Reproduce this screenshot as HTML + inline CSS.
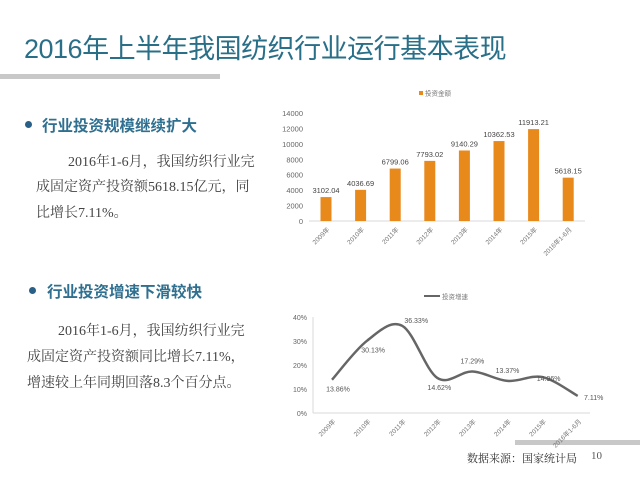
<!DOCTYPE html>
<html><head><meta charset="utf-8"><style>
body{margin:0;width:640px;height:480px;background:#fff;overflow:hidden;position:relative;font-family:"Liberation Sans","Noto Sans CJK SC",sans-serif}
.abs{position:absolute;white-space:nowrap}
.h{color:#2f6f8f;font-size:15.5px;font-weight:bold;font-family:"Liberation Sans","Noto Sans CJK SC",sans-serif}
.dot{width:7px;height:7px;border-radius:50%;background:#2a5f86;position:absolute}
.p{font-family:"Liberation Serif","Noto Serif CJK SC",serif;font-size:14px;color:#444}
</style></head><body>
<div class="abs" style="left:24px;top:27px;font-size:27px;color:#2a6f88;letter-spacing:-0.5px">2016年上半年我国纺织行业运行基本表现</div>
<div class="abs" style="left:0;top:74px;width:220px;height:5px;background:#c8c8c8"></div>
<div class="dot" style="left:25px;top:121px"></div>
<div class="abs h" style="left:42px;top:114px">行业投资规模继续扩大</div>
<div class="abs p" style="left:68px;top:151px">2016年1-6月，我国纺织行业完</div>
<div class="abs p" style="left:36px;top:176px">成固定资产投资额5618.15亿元，同</div>
<div class="abs p" style="left:36px;top:202px">比增长7.11%。</div>
<div class="dot" style="left:29px;top:287px"></div>
<div class="abs h" style="left:47px;top:280px">行业投资增速下滑较快</div>
<div class="abs p" style="left:58px;top:320px">2016年1-6月，我国纺织行业完</div>
<div class="abs p" style="left:27px;top:346px">成固定资产投资额同比增长7.11%，</div>
<div class="abs p" style="left:27px;top:372px">增速较上年同期回落8.3个百分点。</div>
<div class="abs" style="left:515px;top:440px;width:125px;height:5px;background:#c8c8c8"></div>
<div class="abs p" style="left:467px;top:450px;font-size:11px;color:#333">数据来源：国家统计局</div>
<div class="abs p" style="left:591px;top:450px;font-size:11px;color:#555">10</div>
<svg id="bar" class="abs" style="left:0;top:0" width="640" height="480"></svg>
<svg id="line" class="abs" style="left:0;top:0" width="640" height="480"></svg>
<script>
const barCats=["2009年","2010年","2011年","2012年","2013年","2014年","2015年","2016年1-6月"];
const barVals=[3102.04,4036.69,6799.06,7793.02,9140.29,10362.53,11913.21,5618.15];
const barTicks=[0,2000,4000,6000,8000,10000,12000,14000];
const lineCats=["2009年","2010年","2011年","2012年","2013年","2014年","2015年","2016年1-6月"];
const lineVals=[13.86,30.13,36.33,14.62,17.29,13.37,14.96,7.11];
const lineTicks=[0,10,20,30,40];
const NS="http://www.w3.org/2000/svg";
function mk(svg,tag,at,txt){const e=document.createElementNS(NS,tag);for(const k in at)e.setAttribute(k,at[k]);if(txt!=null)e.textContent=txt;svg.appendChild(e);return e;}
// bar chart
const bs=document.getElementById('bar');
const bY=v=>221-v*108/14000, bX=i=>326+i*34.6;
mk(bs,'line',{x1:309,y1:221,x2:585,y2:221,stroke:'#d9d9d9'});
barTicks.forEach(t=>{const e=mk(bs,'text',{x:303,y:bY(t)+3,'text-anchor':'end','font-size':7.5,fill:'#666'},t);
});
barVals.forEach((v,i)=>{const r=mk(bs,'rect',{x:bX(i)-5.5,y:bY(v),width:11,height:221-bY(v),fill:'#e8891c'});

const l=mk(bs,'text',{x:bX(i),y:bY(v)-4,'text-anchor':'middle','font-size':7.5,fill:'#444'},v.toFixed(2));

const c=mk(bs,'text',{x:bX(i)+4,y:230,'text-anchor':'end','font-size':6.5,fill:'#777',transform:`rotate(-45 ${bX(i)+4} 230)`},barCats[i]);
});
const lg=mk(bs,'rect',{x:419,y:91,width:4,height:4,fill:'#e8891c'});
const lt=mk(bs,'text',{x:425,y:95.5,'font-size':6.5,fill:'#777'},'投资金额');
// line chart
const ls=document.getElementById('line');
const lY=v=>413-v*96/40, lX=i=>332+i*35.1;
mk(ls,'line',{x1:313,y1:413,x2:590,y2:413,stroke:'#d9d9d9'});
mk(ls,'line',{x1:313,y1:317,x2:313,y2:413,stroke:'#d9d9d9'});
lineTicks.forEach(t=>{const e=mk(ls,'text',{x:307,y:lY(t)+3,'text-anchor':'end','font-size':7,fill:'#666'},t+'%');
});
const P=lineVals.map((v,i)=>[lX(i),lY(v)]);
let d=`M${P[0][0]},${P[0][1]}`;
for(let i=0;i<P.length-1;i++){const p0=P[i-1]||P[i],p1=P[i],p2=P[i+1],p3=P[i+2]||P[i+1];
d+=` C${p1[0]+(p2[0]-p0[0])/6},${p1[1]+(p2[1]-p0[1])/6} ${p2[0]-(p3[0]-p1[0])/6},${p2[1]-(p3[1]-p1[1])/6} ${p2[0]},${p2[1]}`;}
const pth=mk(ls,'path',{d:d,fill:'none',stroke:'#666',"stroke-width":2.5});

const off=[[6,12],[6,12],[14,-3],[2,12],[0,-8],[0,-8],[6,4],[16,4]];
lineVals.forEach((v,i)=>{const e=mk(ls,'text',{x:lX(i)+off[i][0],y:lY(v)+off[i][1],'text-anchor':'middle','font-size':7,fill:'#555'},v.toFixed(2)+'%');

const c=mk(ls,'text',{x:lX(i)+4,y:422,'text-anchor':'end','font-size':6.5,fill:'#777',transform:`rotate(-45 ${lX(i)+4} 422)`},lineCats[i]);
});
const ll=mk(ls,'line',{x1:424,y1:296,x2:440,y2:296,stroke:'#666','stroke-width':2});
const llt=mk(ls,'text',{x:442,y:299,'font-size':6.5,fill:'#777'},'投资增速');
</script>
</body></html>
